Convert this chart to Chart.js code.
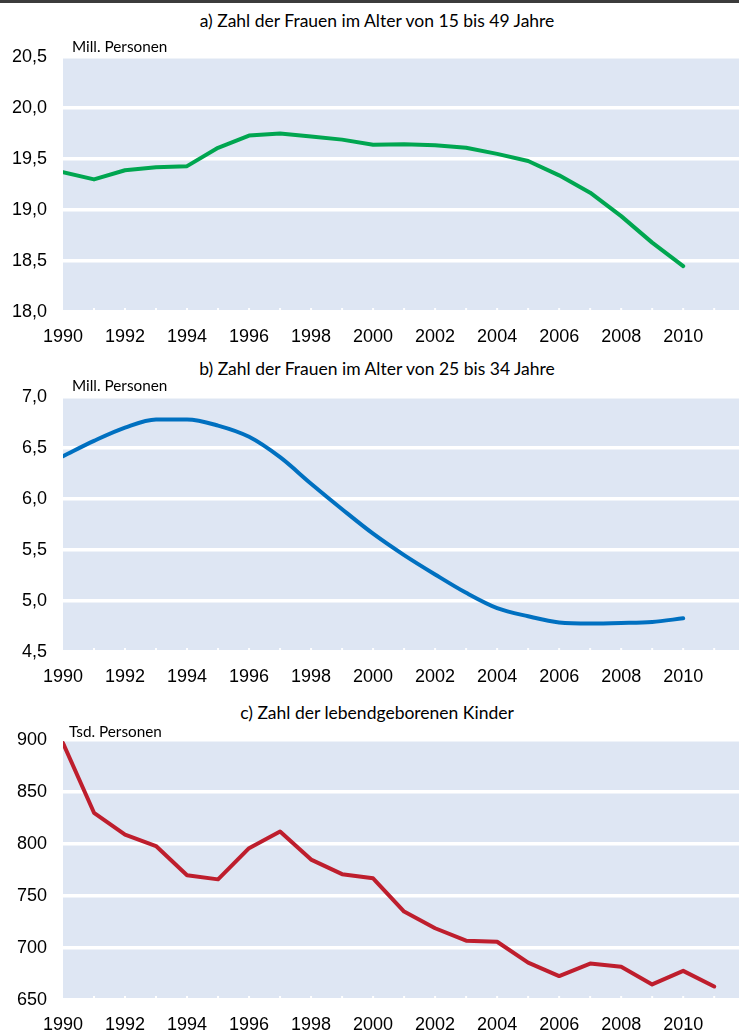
<!DOCTYPE html>
<html>
<head>
<meta charset="utf-8">
<script src="https://cdn.jsdelivr.net/npm/chart.js@4/dist/chart.umd.min.js"></script>
<style>
  html, body { margin: 0; padding: 0; background: #fff; }
  #wrap { position: relative; width: 739px; height: 1030px; overflow: hidden; }
  .cv { position: absolute; left: 0; width: 739px; }
  .title { position: absolute; left: 0; width: 754px; text-align: center; font-family: Lato, "Open Sans", sans-serif; font-size: 17.5px; color: #000; line-height: 20px; white-space: nowrap; z-index: 2; }
  .unit { position: absolute; font-family: Lato, "Open Sans", sans-serif; font-size: 15.3px; color: #000; line-height: 18px; white-space: nowrap; z-index: 2; }
  #topbar { position: absolute; left: 0; top: 0; width: 739px; height: 3px; background: #3c3c3c; }
</style>
</head>
<body>
<div id="wrap">
  <div id="topbar"></div>
  <div class="title" style="top:11px">a) Zahl der Frauen im Alter von 15 bis 49 Jahre</div>
  <div class="unit" style="left:72px; top:37px">Mill. Personen</div>
  <div class="cv" style="top:47px; height:301px"><canvas id="cA" width="739" height="301"></canvas></div>

  <div class="title" style="top:359px">b) Zahl der Frauen im Alter von 25 bis 34 Jahre</div>
  <div class="unit" style="left:72px; top:376px">Mill. Personen</div>
  <div class="cv" style="top:387px; height:301px"><canvas id="cB" width="739" height="301"></canvas></div>

  <div class="title" style="top:703px">c) Zahl der lebendgeborenen Kinder</div>
  <div class="unit" style="left:69px; top:722px">Tsd. Personen</div>
  <div class="cv" style="top:730px; height:306px"><canvas id="cC" width="739" height="306"></canvas></div>
</div>
<script>
// ---- data ----
const yearsAB = [1990,1991,1992,1993,1994,1995,1996,1997,1998,1999,2000,2001,2002,2003,2004,2005,2006,2007,2008,2009,2010];
const yearsC  = [1990,1991,1992,1993,1994,1995,1996,1997,1998,1999,2000,2001,2002,2003,2004,2005,2006,2007,2008,2009,2010,2011];
const women15to49 = [19.37,19.30,19.39,19.42,19.43,19.61,19.73,19.75,19.72,19.69,19.64,19.645,19.635,19.61,19.55,19.48,19.34,19.17,18.94,18.68,18.45];
const women25to34 = [6.42,6.57,6.70,6.78,6.78,6.72,6.61,6.41,6.15,5.90,5.66,5.45,5.26,5.08,4.93,4.85,4.79,4.78,4.785,4.795,4.83];
const births = [897,830,809,798,770,766,796,812,785,771,767,735,719,707,706,686,673,685,682,665,678,663];
const tickYears = [1990,1991,1992,1993,1994,1995,1996,1997,1998,1999,2000,2001,2002,2003,2004,2005,2006,2007,2008,2009,2010,2011];

const BAND = '#dee6f3';
const tickFont = { family: '"Liberation Sans", Arial, sans-serif', size: 18 };

const bandPlugin = {
  id: 'band',
  beforeDraw(chart) {
    const { ctx, chartArea: a } = chart;
    ctx.save();
    ctx.fillStyle = BAND;
    ctx.fillRect(a.left, a.top, a.right - a.left, a.bottom - a.top);
    ctx.restore();
  },
  beforeDatasetsDraw(chart) {
    const { ctx, chartArea: a, scales } = chart;
    ctx.save();
    ctx.strokeStyle = '#ffffff';
    ctx.lineWidth = 2;
    tickYears.forEach(y => {
      if (y === 1990) return;
      const x = scales.x.getPixelForValue(y);
      ctx.beginPath();
      ctx.moveTo(x, a.bottom);
      ctx.lineTo(x, a.bottom - 4);
      ctx.stroke();
    });
    ctx.restore();
  }
};

function makeChart(id, xs, ys, color, yMin, yMax, step, fmt, smooth) {
  return new Chart(document.getElementById(id), {
    type: 'line',
    data: {
      datasets: [{
        data: xs.map((x, i) => ({ x, y: ys[i] })),
        borderColor: color,
        borderWidth: 4,
        pointRadius: 0,
        fill: false,
        tension: 0,
        cubicInterpolationMode: smooth ? 'monotone' : 'default',
        borderCapStyle: 'round',
        borderJoinStyle: 'round'
      }]
    },
    options: {
      responsive: false,
      animation: false,
      events: [],
      layout: { padding: { top: 10, right: 0, left: 0, bottom: 0 } },
      plugins: { legend: { display: false }, tooltip: { enabled: false }, title: { display: false } },
      scales: {
        x: {
          type: 'linear',
          min: 1990,
          max: 2011.8,
          afterBuildTicks: axis => { axis.ticks = tickYears.map(v => ({ value: v })); },
          afterFit: s => { s.height = 36; s.paddingLeft = 0; s.paddingRight = 0; },
          grid: { display: false, drawTicks: false },
          border: { display: false },
          ticks: {
            autoSkip: false, maxRotation: 0, padding: 14, color: '#000', font: tickFont,
            callback: v => (v % 2 === 0 ? String(v) : '')
          }
        },
        y: {
          min: yMin, max: yMax,
          afterFit: s => { s.width = 63; s.paddingTop = 0; s.paddingBottom = 0; },
          grid: { color: '#ffffff', lineWidth: 3.5, drawTicks: false },
          border: { display: false },
          ticks: { stepSize: step, padding: 16, color: '#000', font: tickFont, callback: fmt }
        }
      }
    },
    plugins: [bandPlugin]
  });
}

const fmtDec = v => v.toFixed(1).replace('.', ',');
const fmtInt = v => String(Math.round(v));

makeChart('cA', yearsAB, women15to49, '#00a650', 18.0, 20.5, 0.5, fmtDec, false);
makeChart('cB', yearsAB, women25to34, '#0070c0', 4.5, 7.0, 0.5, fmtDec, true);
makeChart('cC', yearsC, births, '#be1e2d', 650, 900, 50, fmtInt, false);
</script>
</body>
</html>
